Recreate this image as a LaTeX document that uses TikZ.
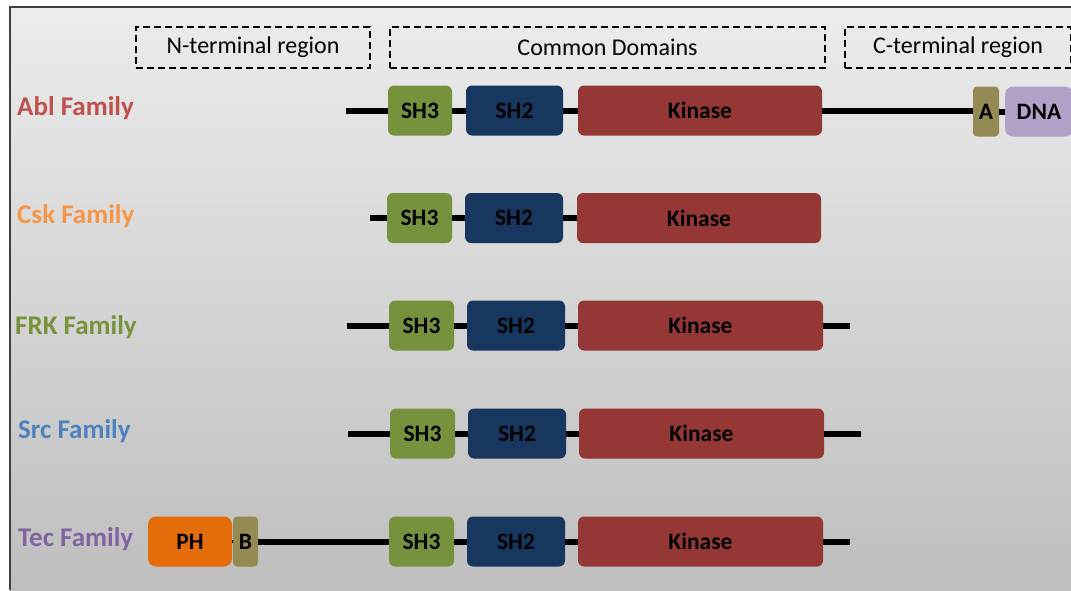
\documentclass[tikz,border=0pt]{standalone}
\usepackage{fontspec}
\setmainfont{Carlito}
\usetikzlibrary{positioning}
\definecolor{ablc}{HTML}{C0504D}
\definecolor{cskc}{HTML}{F79646}
\definecolor{frkc}{HTML}{77933C}
\definecolor{srcc}{HTML}{4F81BD}
\definecolor{tecc}{HTML}{8064A2}
\definecolor{sh3c}{HTML}{76923C}
\definecolor{sh2c}{HTML}{17375E}
\definecolor{kinc}{HTML}{953735}
\definecolor{khaki}{HTML}{948A54}
\definecolor{dnac}{HTML}{B3A2C7}
\definecolor{phc}{HTML}{E46C0A}
\begin{document}
\begin{tikzpicture}[x=1pt,y=-1pt,
  famlabel/.style={font=\fontsize{27}{30}\selectfont\bfseries, anchor=west, inner sep=0pt},
  region/.style={draw, line width=1.1pt, dash pattern=on 7pt off 4pt, minimum height=41pt, inner sep=0pt, font=\fontsize{24}{28}\selectfont},
  dom/.style={rounded corners=6pt, inner sep=0pt, minimum height=50pt, font=\fontsize{23.5}{27}\selectfont\bfseries, text=black},
  link/.style={line width=6pt, black}]
\useasboundingbox (0,0) rectangle (1071,590);
% shaded panel with its frame
\shade[top color={rgb,255:red,236;green,236;blue,236}, bottom color={rgb,255:red,190;green,190;blue,190}] (10,7) rectangle (1071,590);
\draw[line width=1.5pt, black!75] (10,590) -- (10,7) -- (1071,7);

% region headers
\node[region, minimum width=234pt] (nreg) at (253,47.5) {N-terminal region};
\node[region, minimum width=435pt] (creg) at (607.5,47.5) {Common Domains};
\node[region, minimum width=226pt] (ctreg) at (958,47.5) {C-terminal region};

% family labels
\node[famlabel, text=ablc] (labl) at (17,108) {Abl Family};
\node[famlabel, text=cskc] (lcsk) at (17,216) {Csk Family};
\node[famlabel, text=frkc] (lfrk) at (15,327) {FRK Family};
\node[famlabel, text=srcc] (lsrc) at (18,431) {Src Family};
\node[famlabel, text=tecc] (ltec) at (18,539) {Tec Family};

% Abl
\node[dom, fill=sh3c, minimum width=64pt] (abl3) at (420,110.5) {SH3};
\node[dom, fill=sh2c, minimum width=97pt] (abl2) at (514.5,110.5) {SH2};
\node[dom, fill=kinc, minimum width=244pt] (ablk) at (700,110.5) {Kinase};
\node[dom, fill=khaki, minimum width=26pt, rounded corners=4pt] (abla) at (986,111.5) {A};
\node[dom, fill=dnac, minimum width=68pt, rounded corners=8pt] (abld) at (1039,111.5) {DNA};
\coordinate (ablstart) at (346,110.5);
\draw[link] (ablstart) -- (abl3.west);
\draw[link] (abl3.east) -- (abl2.west);
\draw[link] (abl2.east) -- (ablk.west);
\draw[link] (ablk.east) -- (ablk.east -| abla.west);
\draw[link] (abla.east) -- (abld.west);

% Csk
\node[dom, fill=sh3c, minimum width=65pt] (csk3) at (419.5,218) {SH3};
\node[dom, fill=sh2c, minimum width=98pt] (csk2) at (514,218) {SH2};
\node[dom, fill=kinc, minimum width=244pt] (cskk) at (699,218) {Kinase};
\coordinate (cskstart) at (370,218);
\draw[link] (cskstart) -- (csk3.west);
\draw[link] (csk3.east) -- (csk2.west);
\draw[link] (csk2.east) -- (cskk.west);

% FRK
\node[dom, fill=sh3c, minimum width=65pt] (frk3) at (421.5,325.5) {SH3};
\node[dom, fill=sh2c, minimum width=98pt] (frk2) at (516,325.5) {SH2};
\node[dom, fill=kinc, minimum width=245pt] (frkk) at (700.5,325.5) {Kinase};
\coordinate (frkstart) at (347,325.5);
\coordinate (frkend) at (850,325.5);
\draw[link] (frkstart) -- (frk3.west);
\draw[link] (frk3.east) -- (frk2.west);
\draw[link] (frk2.east) -- (frkk.west);
\draw[link] (frkk.east) -- (frkend);

% Src
\node[dom, fill=sh3c, minimum width=65pt] (src3) at (422.5,433.5) {SH3};
\node[dom, fill=sh2c, minimum width=98pt] (src2) at (517,433.5) {SH2};
\node[dom, fill=kinc, minimum width=245pt] (srck) at (701.5,433.5) {Kinase};
\coordinate (srcstart) at (348,433.5);
\coordinate (srcend) at (861,433.5);
\draw[link] (srcstart) -- (src3.west);
\draw[link] (src3.east) -- (src2.west);
\draw[link] (src2.east) -- (srck.west);
\draw[link] (srck.east) -- (srcend);

% Tec
\node[dom, fill=phc, minimum width=84pt, rounded corners=8pt] (tecph) at (190,541.5) {PH};
\node[dom, fill=khaki, minimum width=25pt, rounded corners=4pt] (tecb) at (245.5,541.5) {B};
\node[dom, fill=sh3c, minimum width=65pt] (tec3) at (421.5,541.5) {SH3};
\node[dom, fill=sh2c, minimum width=98pt] (tec2) at (516,541.5) {SH2};
\node[dom, fill=kinc, minimum width=245pt] (teck) at (700.5,541.5) {Kinase};
\coordinate (tecend) at (850,541.5);
\draw[line width=3pt] (tecph.east) -- (tecb.west);
\draw[link] (tecb.east) -- (tec3.west);
\draw[link] (tec3.east) -- (tec2.west);
\draw[link] (tec2.east) -- (teck.west);
\draw[link] (teck.east) -- (tecend);
\end{tikzpicture}
\end{document}
